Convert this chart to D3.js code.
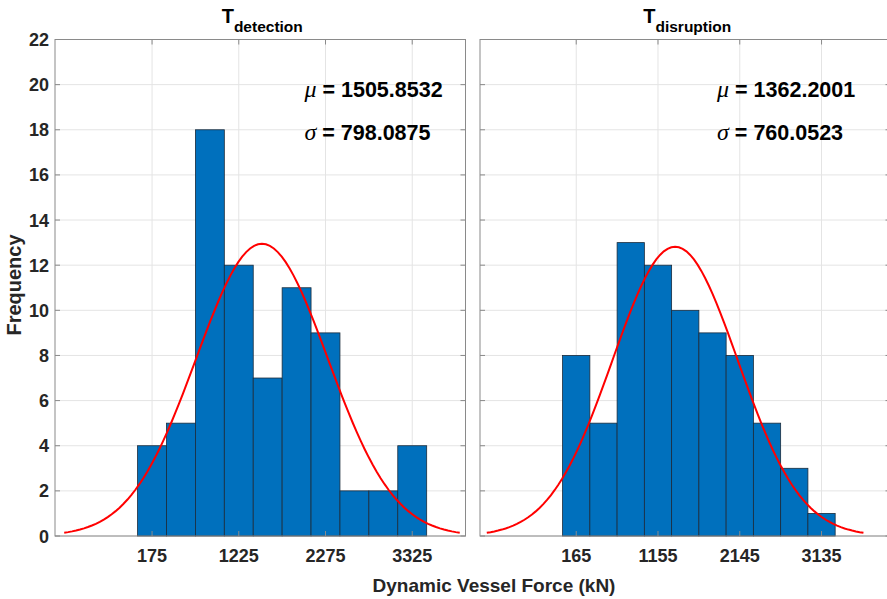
<!DOCTYPE html>
<html>
<head>
<meta charset="utf-8">
<script src="https://cdn.jsdelivr.net/npm/d3@7"></script>
<style>
  body { margin: 0; background: #fff; }
  text { font-family: Arial, "Liberation Sans", Helvetica, sans-serif; }
</style>
</head>
<body>
<div class="hist-chart"></div>
<script>
// histogram counts per bin (bins start at 0)
const detectionCounts = [4, 5, 18, 12, 7, 11, 9, 2, 2, 4];
const disruptionCounts = [8, 5, 13, 12, 10, 9, 8, 5, 3, 1];
const detectionBinWidth = 350;
const disruptionBinWidth = 330;

const detectionMu = 1505.8532;
const detectionSigma = 798.0875;
const disruptionMu = 1362.2001;
const disruptionSigma = 760.0523;

const detectionTicks = [175, 1225, 2275, 3325];
const disruptionTicks = [165, 1155, 2145, 3135];
const freqTicks = [0, 2, 4, 6, 8, 10, 12, 14, 16, 18, 20, 22];

const width = 887;
const height = 599;
const plotTop = 39.5, plotBottom = 536;
const axisColor = '#8a8a8a';
const textColor = '#262626';

const panels = [
    {title: 'detection', counts: detectionCounts, bw: detectionBinWidth, mu: detectionMu,
     sigma: detectionSigma, ticks: detectionTicks, x0: 55, x1: 465.5, labelX: 2020, showY: true},
    {title: 'disruption', counts: disruptionCounts, bw: disruptionBinWidth, mu: disruptionMu,
     sigma: disruptionSigma, ticks: disruptionTicks, x0: 480, x1: 890.5, labelX: 1870, showY: false}
];

const svg = d3.select('.hist-chart').append('svg')
    .attr('width', width)
    .attr('height', height)
    .attr('viewBox', [0, 0, width, height]);

const y = d3.scaleLinear().domain([0, 22]).range([plotBottom, plotTop]);

panels.forEach(p => {
    const x = d3.scaleLinear().domain([-1000, 3970]).range([p.x0, p.x1]);
    const g = svg.append('g');

    // grid
    g.selectAll('.gx').data(p.ticks).enter().append('line')
        .attr('x1', d => x(d)).attr('x2', d => x(d))
        .attr('y1', plotTop).attr('y2', plotBottom)
        .style('stroke', '#e4e4e4').style('stroke-width', 1);
    g.selectAll('.gy').data(freqTicks).enter().append('line')
        .attr('x1', p.x0).attr('x2', p.x1)
        .attr('y1', d => y(d)).attr('y2', d => y(d))
        .style('stroke', '#e4e4e4').style('stroke-width', 1);

    // bars
    g.selectAll('rect').data(p.counts).enter().append('rect')
        .attr('x', (d, i) => x(i * p.bw))
        .attr('width', x(p.bw) - x(0))
        .attr('y', d => y(d))
        .attr('height', d => y(0) - y(d))
        .style('fill', '#0070bd')
        .style('stroke', '#1b2b3b')
        .style('stroke-width', 0.8);

    // normal fit (histfit style)
    const n = d3.sum(p.counts);
    const pdf = v => n * p.bw * Math.exp(-0.5 * ((v - p.mu) / p.sigma) ** 2) / (p.sigma * Math.sqrt(2 * Math.PI));
    const xs = d3.range(0, 101).map(i => p.mu - 3 * p.sigma + i * 6 * p.sigma / 100);
    g.append('path')
        .datum(xs)
        .attr('d', d3.line().x(d => x(d)).y(d => y(pdf(d))))
        .style('fill', 'none')
        .style('stroke', '#ff0000')
        .style('stroke-width', 2);

    // box
    g.append('rect')
        .attr('x', p.x0).attr('y', plotTop)
        .attr('width', p.x1 - p.x0).attr('height', plotBottom - plotTop)
        .style('fill', 'none').style('stroke', axisColor).style('stroke-width', 1);

    // tick marks (inward)
    g.selectAll('.tb').data(p.ticks).enter().append('path')
        .attr('d', d => `M${x(d)},${plotBottom}v-5M${x(d)},${plotTop}v5`)
        .style('stroke', axisColor);
    g.selectAll('.tl').data(freqTicks).enter().append('path')
        .attr('d', d => `M${p.x0},${y(d)}h5M${p.x1},${y(d)}h-5`)
        .style('stroke', axisColor);

    // tick labels
    g.selectAll('.xl').data(p.ticks).enter().append('text')
        .attr('x', d => x(d)).attr('y', 562)
        .attr('text-anchor', 'middle')
        .style('font-size', '18px').style('font-weight', 'bold').style('fill', textColor)
        .text(d => d);
    if (p.showY) {
        g.selectAll('.yl').data(freqTicks).enter().append('text')
            .attr('x', p.x0 - 6).attr('y', d => y(d) + 6.5)
            .attr('text-anchor', 'end')
            .style('font-size', '18px').style('font-weight', 'bold').style('fill', textColor)
            .text(d => d);
    }

    // title
    const t = g.append('text')
        .attr('x', (p.x0 + p.x1) / 2 + 2).attr('y', 23)
        .attr('text-anchor', 'middle')
        .style('font-weight', 'bold').style('fill', '#000');
    t.append('tspan').style('font-size', '20px').text('T');
    t.append('tspan').attr('dy', 9).style('font-size', '15.5px').text(p.title);

    // stats
    [['\u03bc', p.mu.toFixed(4), 19.47], ['\u03c3', p.sigma.toFixed(4), 17.56]].forEach(s => {
        const st = g.append('text')
            .attr('x', x(p.labelX)).attr('y', y(s[2]))
            .style('fill', '#000');
        st.append('tspan')
            .style('font-family', '"Liberation Serif", "Times New Roman", serif')
            .style('font-style', 'italic').style('font-size', '24px')
            .text(s[0]);
        st.append('tspan')
            .style('font-weight', 'bold').style('font-size', '21.5px')
            .text(' = ' + s[1]);
    });
});

// axis labels
svg.append('text')
    .attr('x', 494).attr('y', 592)
    .attr('text-anchor', 'middle')
    .style('font-size', '19px').style('font-weight', 'bold').style('fill', textColor)
    .text('Dynamic Vessel Force (kN)');

svg.append('text')
    .attr('transform', 'translate(21,285) rotate(-90)')
    .attr('text-anchor', 'middle')
    .style('font-size', '20px').style('font-weight', 'bold').style('fill', textColor)
    .text('Frequency');
</script>
</body>
</html>
